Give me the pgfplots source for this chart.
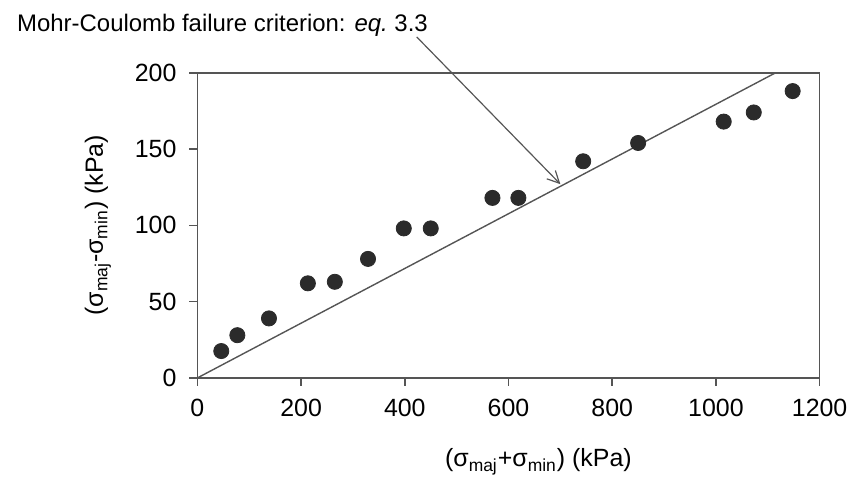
\documentclass[border=0pt]{standalone}
\usepackage{pgfplots}
\pgfplotsset{compat=1.18}
\usepackage{fontspec}
\setmainfont{Liberation Sans}
\usetikzlibrary{arrows.meta}
\definecolor{axgray}{HTML}{555555}
\definecolor{dotgray}{HTML}{2B2B2B}
\begin{document}
\begin{tikzpicture}
\begin{axis}[
  scale only axis, width=312pt, height=153pt,
  xmin=0, xmax=1200, ymin=0, ymax=200,
  xtick={0,200,...,1200}, ytick={0,50,...,200},
  tick align=outside, tick pos=left, major tick length=4pt,
  axis line style={axgray, line width=0.75pt},
  every tick/.style={axgray, line width=0.75pt},
  /pgf/number format/assume math mode=true,
  /pgf/number format/1000 sep={}, scaled ticks=false,
  tick label style={font=\fontsize{12.5}{15}\selectfont, text=black},
  xticklabel style={yshift=-3pt},
  yticklabel style={xshift=-3pt},
  label style={font=\fontsize{12.5}{15}\selectfont},
  xlabel={(σ\textsubscript{maj}+σ\textsubscript{min}) (kPa)},
  ylabel={(σ\textsubscript{maj}-σ\textsubscript{min}) (kPa)},
  xlabel style={at={(axis description cs:0.548,-0.291)}, anchor=base},
  ylabel style={at={(axis description cs:-0.16,0.5)}, anchor=center},
  clip=false,
]
\addplot[axgray, line width=0.7pt] coordinates {(0,0) (1115,200)};
\addplot[only marks, mark=*, mark size=3.8pt, mark options={fill=dotgray, draw=dotgray}] coordinates {
  (46,17.6) (77,28) (138,39) (213,62) (265,63) (329,78) (398,98) (450,98)
  (569,118) (619,118) (744,142) (850,154) (1015,168) (1073,174) (1148,188)
};
\draw[axgray, line width=0.6pt, -{Straight Barb[length=6pt, width=6pt]}] (axis cs:423,223.5) -- (axis cs:700,127);
\node[anchor=base west, font=\fontsize{12}{14}\selectfont] at (axis description cs:-0.301,1.134) {Mohr-Coulomb failure criterion: \textit{eq.}\ 3.3};
\path (axis description cs:-0.3173,-0.3366) rectangle (axis description cs:1.0513,1.2386);
\end{axis}
\end{tikzpicture}
\end{document}
